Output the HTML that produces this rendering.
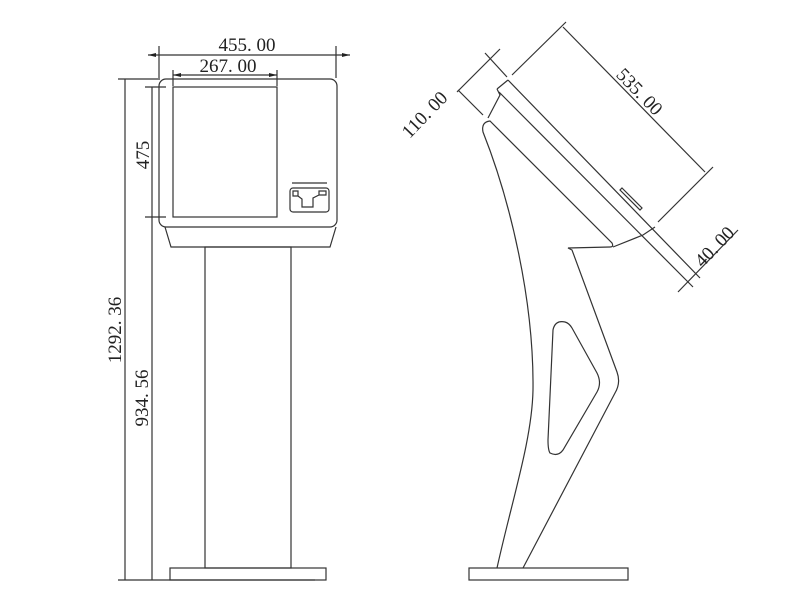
<!DOCTYPE html>
<html><head><meta charset="utf-8"><style>
html,body{margin:0;padding:0;background:#fff;}
svg{display:block}
text{font-family:"Liberation Serif",serif;font-size:19px;fill:#222;}
</style></head><body>
<svg width="800" height="607" viewBox="0 0 800 607" xmlns="http://www.w3.org/2000/svg">
<g fill="none" stroke="#333" stroke-width="1.2">
<rect x="159" y="79" width="178" height="148" rx="7"/>
<path d="M165 227 L171 247 L330 247 L336 227"/>
<rect x="173" y="87" width="104" height="130"/>
<line x1="292" y1="183" x2="327" y2="183"/>
<rect x="290" y="188" width="39" height="24" rx="3"/>
<path d="M293 191 h5 v5 h-5z M319 191 h7 v4 h-7z M298 196 l4 3 v8 h11 v-9 l6 -3"/>
<rect x="205" y="247" width="86" height="321"/>
<rect x="170" y="568" width="156" height="12"/>
<line x1="148" y1="55" x2="350" y2="55"/>
<line x1="159" y1="46" x2="159" y2="78"/>
<line x1="336" y1="46" x2="336" y2="78"/>
<line x1="173" y1="75" x2="277" y2="75"/>
<line x1="173" y1="70" x2="173" y2="86"/>
<line x1="277" y1="70" x2="277" y2="86"/>
<line x1="125" y1="79" x2="125" y2="580"/>
<line x1="118" y1="79" x2="160" y2="79"/>
<line x1="152" y1="87" x2="152" y2="580"/>
<line x1="145" y1="87" x2="166" y2="87"/>
<line x1="145" y1="217" x2="166" y2="217"/>
<line x1="118" y1="580" x2="315" y2="580"/>
<rect x="469" y="568" width="159" height="12"/>
<path d="M497 568 C512 500 532 440 533 390 C534 300 510 200 483 132 Q481 122 490 121 L612 243 Q614 247 610 247 L568 248 L572 250 L617 372 Q621 383 615 393 L523 568"/>
<path d="M553 330 Q555 320 565 322 Q569 323 572 328 L597 373 Q602 383 597 392 L563 450 Q558 457 550 453 Q548 450 548 440 Z"/>
<path d="M497 89 L508 80 M508 80 L700 278 M499 92 L693 287 M497 89 L500 95 L488 118"/>
<path d="M613 247 L643 235 L655 227"/>
<path d="M622 188 L642 208 L640 210 L620 190 Z"/>
<line x1="512" y1="75" x2="566" y2="22"/>
<line x1="658" y1="222" x2="713" y2="167"/>
<line x1="563" y1="27" x2="705" y2="172"/>
<line x1="485" y1="53" x2="507" y2="77"/>
<line x1="458" y1="90" x2="483" y2="115"/>
<line x1="457" y1="92" x2="500" y2="49"/>
<line x1="678" y1="292" x2="738" y2="230"/>
</g>
<g fill="#222" stroke="none">
<polygon points="148,55 156,53 156,57"/>
<polygon points="350,55 342,53 342,57"/>
<polygon points="173,75 181,73 181,77"/>
<polygon points="277,75 269,73 269,77"/>
</g>
<text x="247" y="51" text-anchor="middle">455. 00</text>
<text x="228" y="72" text-anchor="middle">267. 00</text>
<text transform="translate(149,155) rotate(-90)" text-anchor="middle">475</text>
<text transform="translate(121,330) rotate(-90)" text-anchor="middle">1292. 36</text>
<text transform="translate(148,398) rotate(-90)" text-anchor="middle">934. 56</text>
<text transform="translate(635,96) rotate(46)" text-anchor="middle">535. 00</text>
<text transform="translate(429,119) rotate(-46)" text-anchor="middle">110. 00</text>
<text transform="translate(719,251) rotate(-46)" text-anchor="middle">40. 00</text>
</svg>
</body></html>
